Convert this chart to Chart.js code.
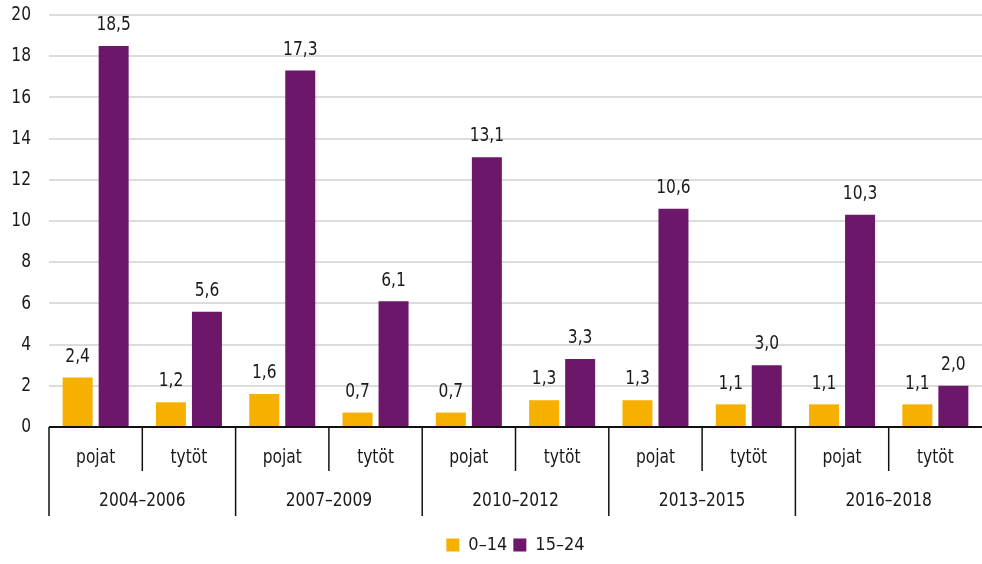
<!DOCTYPE html>
<html lang="fi">
<head>
<meta charset="utf-8">
<title>pojat ja tytöt</title>
<script src="https://cdn.jsdelivr.net/npm/chart.js@4.4.1/dist/chart.umd.min.js"></script>
<style>
  html, body { margin: 0; padding: 0; background: #fff; }
  #wrap { width: 982px; height: 564px; position: relative; }
</style>
</head>
<body>
<div id="wrap"><canvas id="chart"></canvas></div>
<script>
// datos del grafico
const periods = ['2004–2006', '2007–2009', '2010–2012', '2013–2015', '2016–2018'];
const genders = ['pojat', 'tytöt'];
const ages0to14 = [2.4, 1.2, 1.6, 0.7, 0.7, 1.3, 1.3, 1.1, 1.1, 1.1];
const ages15to24 = [18.5, 5.6, 17.3, 6.1, 13.1, 3.3, 10.6, 3.0, 10.3, 2.0];
const yTicks = [0, 2, 4, 6, 8, 10, 12, 14, 16, 18, 20];

const FONT = '"DejaVu Sans Condensed", "DejaVu Sans", sans-serif';
const TEXT = '#1a1a1a';
const SQUEEZE = 0.86; // la fuente original es mas estrecha

// one category per gender inside every period
const labels = [];
periods.forEach(p => genders.forEach(g => labels.push(g)));

function fmt(v) {
  return v.toFixed(1).replace('.', ',');
}

// texto estrecho: escala horizontal alrededor del punto x
function narrowText(ctx, txt, x, y) {
  ctx.save();
  ctx.translate(x, y);
  ctx.scale(SQUEEZE, 1);
  ctx.fillText(txt, 0, 0);
  ctx.restore();
}

// etiquetas encima de las barras
const valueLabels = {
  id: 'valueLabels',
  afterDatasetsDraw(chart) {
    const ctx = chart.ctx;
    ctx.save();
    ctx.font = '20px ' + FONT;
    ctx.fillStyle = TEXT;
    ctx.textAlign = 'center';
    ctx.textBaseline = 'bottom';
    chart.data.datasets.forEach((ds, i) => {
      chart.getDatasetMeta(i).data.forEach((bar, j) => {
        narrowText(ctx, fmt(ds.data[j]), bar.x, bar.y - 11);
      });
    });
    ctx.restore();
  }
};

// eje x de dos niveles (genero + periodo) y numeros del eje y
const groupAxis = {
  id: 'groupAxis',
  afterLayout(chart) {
    // leyenda centrada sobre el area del grafico, no sobre todo el canvas
    const shift = chart.chartArea.left / 2;
    chart.legend.left += shift;
    chart.legend.right += shift;
  },
  afterDraw(chart) {
    const ctx = chart.ctx;
    const x = chart.scales.x;
    const y = chart.scales.y;
    const base = chart.chartArea.bottom;
    const step = x.getPixelForValue(1) - x.getPixelForValue(0);
    ctx.save();
    ctx.strokeStyle = '#111';
    ctx.lineWidth = 1.5;
    for (let i = 0; i < labels.length; i++) {
      const left = x.getPixelForValue(i) - step / 2;
      const long = i % 2 === 0;
      ctx.beginPath();
      ctx.moveTo(left, base);
      ctx.lineTo(left, base + (long ? 89 : 44));
      ctx.stroke();
    }
    // linea base
    ctx.lineWidth = 2;
    ctx.beginPath();
    ctx.moveTo(chart.chartArea.left, base);
    ctx.lineTo(chart.chartArea.right, base);
    ctx.stroke();

    ctx.font = '20px ' + FONT;
    ctx.fillStyle = TEXT;
    ctx.textAlign = 'center';
    ctx.textBaseline = 'middle';
    labels.forEach((l, i) => {
      narrowText(ctx, l, x.getPixelForValue(i), base + 31);
    });
    periods.forEach((p, k) => {
      const mid = (x.getPixelForValue(2 * k) + x.getPixelForValue(2 * k + 1)) / 2;
      narrowText(ctx, p, mid, base + 74);
    });

    ctx.textAlign = 'right';
    yTicks.forEach(v => {
      narrowText(ctx, String(v), 31, y.getPixelForValue(v));
    });
    ctx.restore();
  }
};

const ctx = document.getElementById('chart').getContext('2d');
const chart = new Chart(ctx, {
  type: 'bar',
  data: {
    labels: labels,
    datasets: [
      { label: '0–14', data: ages0to14, backgroundColor: '#f6b100' },
      { label: '15–24', data: ages15to24, backgroundColor: '#6d176b' }
    ]
  },
  options: {
    responsive: true,
    maintainAspectRatio: false,
    animation: false,
    categoryPercentage: 0.772,
    barPercentage: 0.833,
    layout: { padding: { top: 15, right: 0, left: 0, bottom: 0 } },
    plugins: {
      legend: {
        position: 'bottom',
        labels: {
          boxWidth: 13,
          boxHeight: 13,
          padding: 6,
          color: TEXT,
          font: { family: FONT, size: 18 }
        }
      },
      tooltip: { enabled: false }
    },
    scales: {
      x: {
        grid: { display: false },
        border: { display: false },
        ticks: { display: false },
        afterFit(scale) { scale.height = 103; }
      },
      y: {
        min: 0,
        max: 20,
        afterBuildTicks(scale) { scale.ticks = yTicks.map(v => ({ value: v })); },
        afterFit(scale) { scale.width = 49; },
        grid: { color: '#dcdcdc', lineWidth: 2, drawTicks: false },
        border: { display: false },
        ticks: { display: false }
      }
    }
  },
  plugins: [valueLabels, groupAxis]
});
</script>
</body>
</html>
